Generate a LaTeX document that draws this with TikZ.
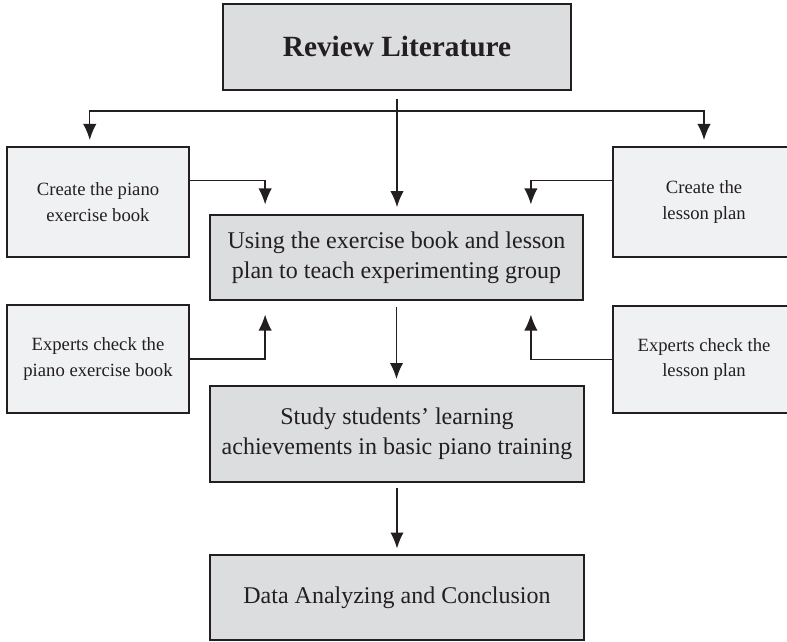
\documentclass[tikz,border=0pt]{standalone}
\usepackage{fontspec}
\setmainfont{Liberation Serif}
\usetikzlibrary{arrows.meta,calc}
\definecolor{boxgray}{RGB}{220,221,223}
\definecolor{sidegray}{RGB}{240,241,243}
\definecolor{inkdark}{RGB}{35,31,32}

\tikzset{
  mainbox/.style={draw=inkdark, line width=1.5pt, fill=boxgray, text=inkdark, align=center, inner sep=0pt, font=\fontsize{18}{22.5}\selectfont},
  sidebox/.style={draw=inkdark, line width=1.5pt, fill=sidegray, text=inkdark, align=center, inner sep=0pt, minimum width=136pt, font=\fontsize{14}{19}\selectfont},
  arr/.style={draw=inkdark, line width=1.1pt, -{Latex[length=12pt,width=10pt]}},
}

\begin{document}
\begin{tikzpicture}[x=0.75pt,y=0.75pt,yscale=-1,xscale=1]
    \clip (0,0) rectangle (787,641);

    % Main column
    \node[mainbox, minimum width=261pt, minimum height=64.5pt, font=\bfseries\fontsize{22}{26}\selectfont] (review) at (397,47) {Review Literature};
    \node[mainbox, minimum width=280pt, minimum height=64pt] (use) at (396.5,257.5) {Using the exercise book and lesson\\plan to teach experimenting group};
    \node[mainbox, minimum width=280.5pt, minimum height=72pt] (study) at (397,434) {Study students' learning\\achievements in basic piano training};
    \node[mainbox, minimum width=280.5pt, minimum height=64pt] (data) at (397,597.5) {Data Analyzing and Conclusion};

    % Side boxes
    \node[sidebox, minimum height=82.5pt] (book) at (98,202) {Create the piano\\exercise book};
    \node[sidebox, minimum height=82.5pt] (plan) at (704,202) {Create the\\lesson plan};
    \node[sidebox, minimum height=81pt] (chkbook) at (98,359) {Experts check the\\piano exercise book};
    \node[sidebox, minimum height=80.5pt] (chkplan) at (704,359.5) {Experts check the\\lesson plan};

    % Connectors
    \coordinate (split) at (397,111);
    \draw[arr, shorten <=6pt, shorten >=5pt] (review.south) -- (review.south |- use.north);
    \draw[arr, shorten >=4.5pt] (split) -| ($(book.north west)!.455!(book.north east)$);
    \draw[arr, shorten >=4.5pt] (split) -| (plan.north);
    \draw[arr, shorten >=7pt] ($(book.north east)!.31!(book.south east)$) -| ($(use.north west)!.15!(use.north east)$);
    \draw[arr, shorten >=7pt] ($(plan.north west)!.31!(plan.south west)$) -| ($(use.north west)!.858!(use.north east)$);
    \draw[arr, shorten >=10pt] (chkbook.east) -| ($(use.south west)!.15!(use.south east)$);
    \draw[arr, shorten >=10pt] (chkplan.west) -| ($(use.south west)!.858!(use.south east)$);
    \draw[arr, shorten <=4pt, shorten >=4.5pt] (use.south) -- (use.south |- study.north);
    \draw[arr, shorten <=4pt, shorten >=4pt] (study.south) -- (study.south |- data.north);

\end{tikzpicture}
\end{document}
